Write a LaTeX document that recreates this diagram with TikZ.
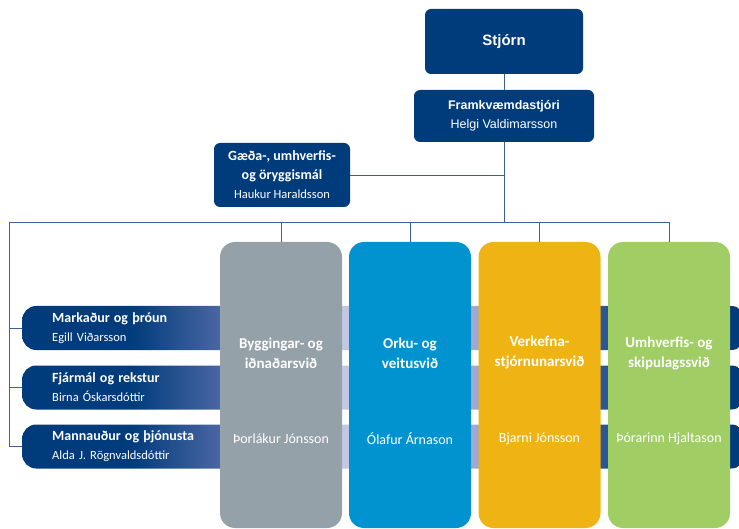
\documentclass[tikz,border=0pt]{standalone}
\usepackage{fontspec}
\setmainfont{Carlito}
\newfontfamily\arialfont{Liberation Sans}
\usepackage{tikz}
\usetikzlibrary{positioning}

\definecolor{navy}{HTML}{003B7B}
\definecolor{linecol}{HTML}{3A5F9A}
\definecolor{bandmid}{HTML}{4A66A3}
\definecolor{lavlight}{HTML}{C3C8E3}
\definecolor{lavdark}{HTML}{A5ACD3}
\definecolor{bandblue}{HTML}{2C5797}
\definecolor{colgrey}{HTML}{95A1A9}
\definecolor{colblue}{HTML}{0093D0}
\definecolor{colyellow}{HTML}{EFB314}
\definecolor{colgreen}{HTML}{A0CE64}

\pgfdeclarehorizontalshading{bandshade}{100bp}{color(0bp)=(navy); color(32.5bp)=(navy);
  color(38.7bp)=(bandmid); color(47bp)=(lavlight); color(56bp)=(lavdark);
  color(65bp)=(bandblue); color(71bp)=(navy); color(100bp)=(navy)}

\newcommand{\headfont}{\bfseries\fontsize{14}{19}\selectfont}
\newcommand{\whofont}{\mdseries\fontsize{12.5}{19}\selectfont}

\tikzset{
  boss/.style={fill=navy, text=white, rounded corners=6pt, align=center, inner sep=0pt},
  conn/.style={draw=linecol, line width=0.9pt},
  band/.style={shade, shading=bandshade, rounded corners=14pt, minimum height=44pt,
    text width=663pt, inner xsep=30pt, inner ysep=0pt, align=left, text=white, anchor=west,
    font=\fontsize{12.5}{19}\selectfont},
  column/.style={rounded corners=15pt, minimum width=122pt, minimum height=286pt, inner sep=0pt},
  coltitle/.style={text=white, align=center, font=\bfseries\fontsize{15}{20}\selectfont},
  colname/.style={text=white, font=\fontsize{14}{17}\selectfont}
}

\begin{document}
\begin{tikzpicture}[x=1pt, y=1pt]
    \useasboundingbox (0,0) rectangle (739,-529);
    \clip (0,0) rectangle (739,-529);

    % --- top of the chart ---
    \node[boss, minimum width=158pt, minimum height=65pt,
      font=\arialfont\bfseries\fontsize{15}{18}\selectfont] (stjorn) at (504,-41.5) {Stjórn};
    \node[boss, minimum width=180pt, minimum height=52pt,
      font=\arialfont\fontsize{12.5}{19}\selectfont] (fram) at (504,-116)
      {\bfseries Framkvæmdastjóri\\Helgi Valdimarsson};
    \node[boss, minimum width=136pt, minimum height=64pt,
      font=\fontsize{12.5}{19}\selectfont] (gaeda) at (282,-175)
      {\headfont Gæða-, umhverfis-\\\headfont og öryggismál\\\whofont Haukur Haraldsson};

    \coordinate (busl) at (9,-222);
    \coordinate (busr) at (669,-222);

    \draw[conn] (stjorn.south) -- (fram.north);
    \draw[conn] (fram.south) -- (fram.south |- busl);
    \draw[conn] (gaeda.east) -- (gaeda.east -| fram.south);
    \draw[conn] (busl) -- (busr);

    % --- staff bands (behind the columns) ---
    \foreach \n/\y/\head/\who in {mark/328/{Markaður og þróun}/{Egill Viðarsson},
                                  fjar/387.5/{Fjármál og rekstur}/{Birna Óskarsdóttir},
                                  mann/446.5/{Mannauður og þjónusta}/{Alda J. Rögnvaldsdóttir}}{
        \node[band] (\n) at (22,-\y) {\headfont \head\\\whofont \who};
        \draw[conn] (busl) |- (\n.west);
    }

    % --- divisions ---
    \foreach \n/\x/\c/\title/\name in {1/281/colgrey/{Byggingar- og\\iðnaðarsvið}/{Þorlákur Jónsson},
                                       2/410/colblue/{Orku- og\\veitusvið}/{Ólafur Árnason},
                                       3/539.5/colyellow/{Verkefna-\\stjórnunarsvið}/{Bjarni Jónsson},
                                       4/669/colgreen/{Umhverfis- og\\skipulagssvið}/{Þórarinn Hjaltason}}{
        \node[column, fill=\c] (col\n) at (\x,-385) {};
        \node[coltitle] (title\n) at (\x,-353) {\title};
        \node[colname] (name\n) at (\x,-439) {\name};
        \draw[conn] (col\n.north |- busl) -- (col\n.north);
    }
\end{tikzpicture}
\end{document}
